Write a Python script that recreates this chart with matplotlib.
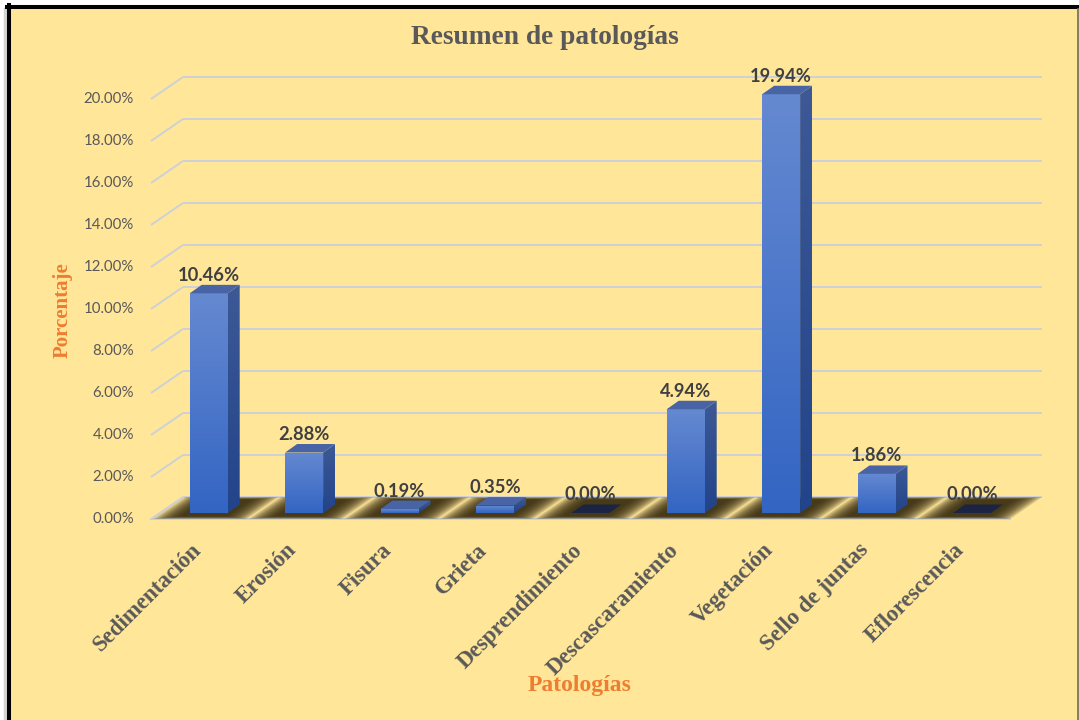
import numpy as np
import matplotlib.pyplot as plt
from matplotlib.patches import Polygon, Rectangle
from matplotlib.lines import Line2D
from matplotlib.colors import to_rgb

categorias = ['Sedimentación', 'Erosión', 'Fisura', 'Grieta', 'Desprendimiento',
              'Descascaramiento', 'Vegetación', 'Sello de juntas', 'Eflorescencia']
porcentajes = [10.46, 2.88, 0.19, 0.35, 0.00, 4.94, 19.94, 1.86, 0.00]
ticks_y = [0, 2, 4, 6, 8, 10, 12, 14, 16, 18, 20]

W, H = 1079, 720
fig = plt.figure(figsize=(W / 100, H / 100), dpi=100)
fig.patch.set_facecolor('white')


def fx(px):
    return px / W


def fy(py):
    return 1 - py / H


# fondo del grafico y marco
fig.add_artist(Rectangle((fx(9), fy(730)), fx(1077) - fx(9), fy(7) - fy(730),
                         transform=fig.transFigure, facecolor='#FFE699',
                         edgecolor='none', zorder=0))
fig.add_artist(Line2D([fx(4.5), fx(4.5)], [fy(9), fy(720)], transform=fig.transFigure,
                      color='#D4D4D4', lw=2.5))
fig.add_artist(Line2D([fx(9), fx(9)], [fy(5), fy(720)], transform=fig.transFigure,
                      color='black', lw=2.9))
fig.add_artist(Line2D([fx(7), fx(1079)], [fy(7), fy(7)], transform=fig.transFigure,
                      color='black', lw=2.9))
fig.add_artist(Line2D([fx(1077.5), fx(1077.5)], [fy(9), fy(720)], transform=fig.transFigure,
                      color='#7F7055', lw=1.3))

# ejes: x = indice de categoria, y = porcentaje
x0_px, step_px, base_px, unit_px = 208.7, 95.4, 513, 21.0
xlim = (-1, 9)
ylim = (-2, 21.5)
left = x0_px + xlim[0] * step_px
right = x0_px + xlim[1] * step_px
bottom = base_px - ylim[0] * unit_px
top = base_px - ylim[1] * unit_px
ax = fig.add_axes([fx(left), fy(bottom), (right - left) / W, (bottom - top) / H])
ax.set_xlim(*xlim)
ax.set_ylim(*ylim)
ax.axis('off')

PX = 1 / step_px
PY = 1 / unit_px
shear = 32 / 22


def floor(x, d):
    # punto del piso: d en pixeles hacia el fondo
    return (x + d * shear * PX, d * PY)


# cuadricula en perspectiva
grid_c = '#CCD1D8'
d_front, d_back = -6, 16
xl = (151 - x0_px) * PX - d_front * shear * PX
xr = (1010 - x0_px) * PX - d_front * shear * PX
for v in ticks_y:
    fl = floor(xl, d_front)
    bl = floor(xl, d_back)
    br = floor(xr, d_back)
    ax.plot([fl[0], bl[0]], [fl[1] + v, bl[1] + v], color=grid_c, lw=1.4, zorder=1,
            solid_capstyle='butt')
    ax.plot([bl[0], br[0]], [bl[1] + v, br[1] + v], color=grid_c, lw=1.4, zorder=1,
            solid_capstyle='butt')
    ax.text((134 - x0_px) * PX, fl[1] + v, f'{v:.2f}%', ha='right', va='center',
            fontsize=10.8, color='#595959', family='Lato')
fl = floor(xl, d_front)
fr = floor(xr, d_front)
ax.plot([fl[0], fr[0]], [fl[1], fr[1]], color=grid_c, lw=1.4, zorder=1)

hw = 19 * PX
ddx, ddy = 12 * PX, 8.5 * PY


def gradient(c_top, c_bot, n=64):
    a, b = np.array(to_rgb(c_top)), np.array(to_rgb(c_bot))
    t = np.linspace(0, 1, n)[:, None]
    return (a * (1 - t) + b * t)[:, None, :]


# sombras difusas sobre el piso
for i, v in enumerate(porcentajes):
    n = 12
    for k in range(n):
        s = (28 - 26 * k / n) * PX
        e = 3 * (1 - k / n)
        pts = [floor(i - hw - s, -3 - e), floor(i + hw + s, -3 - e),
               floor(i + hw + s, 13 + e), floor(i - hw - s, 13 + e)]
        ax.add_patch(Polygon(pts, closed=True, facecolor='#33270C', edgecolor='none',
                             alpha=0.17, zorder=2))

# barras 3D
for i, v in enumerate(porcentajes):
    if v > 0:
        front = Rectangle((i - hw, 0), 2 * hw, v, facecolor='none', edgecolor='none')
        ax.add_patch(front)
        im = ax.imshow(gradient('#6589D1', '#3365C3'), extent=(i - hw, i + hw, 0, v),
                       origin='upper', aspect='auto', interpolation='bilinear', zorder=4)
        im.set_clip_path(front)
        side = Polygon([(i + hw, 0), (i + hw + ddx, ddy), (i + hw + ddx, v + ddy),
                        (i + hw, v)], closed=True, facecolor='none', edgecolor='none')
        ax.add_patch(side)
        im2 = ax.imshow(gradient('#3D5996', '#22448A'),
                        extent=(i + hw, i + hw + ddx, 0, v + ddy),
                        origin='upper', aspect='auto', interpolation='bilinear', zorder=4)
        im2.set_clip_path(side)
        top_c = '#4864A5'
    else:
        top_c = '#1B2442'
    ax.add_patch(Polygon([(i - hw, v), (i + hw, v), (i + hw + ddx, v + ddy),
                          (i - hw + ddx, v + ddy)], closed=True, facecolor=top_c,
                         edgecolor='none', zorder=5))
    ax.annotate(f'{v:.2f}%', xy=(i, v), xytext=(0, 18), textcoords='offset pixels',
                ha='center', va='center', fontsize=13.2, fontweight='bold',
                family='Lato', color='#404040', zorder=6)
    ax.text(i - 10.7 * PX, -34 * PY, categorias[i], rotation=45, rotation_mode='anchor',
            ha='right', va='center', family='Liberation Serif', fontweight='bold',
            fontsize=16.5, color='#595959')

ax.set_xlim(*xlim)
ax.set_ylim(*ylim)

fig.text(fx(545), fy(37), 'Resumen de patologías', ha='center', va='center',
         family='Liberation Serif', fontweight='bold', fontsize=19.7, color='#595959')
fig.text(fx(63), fy(310), 'Porcentaje', rotation=90, ha='center', va='center',
         family='Liberation Serif', fontweight='bold', fontsize=15, color='#ED7D31')
fig.text(fx(580), fy(685), 'Patologías', ha='center', va='center',
         family='Liberation Serif', fontweight='bold', fontsize=17, color='#ED7D31')

fig.savefig('out.png', dpi=100)
